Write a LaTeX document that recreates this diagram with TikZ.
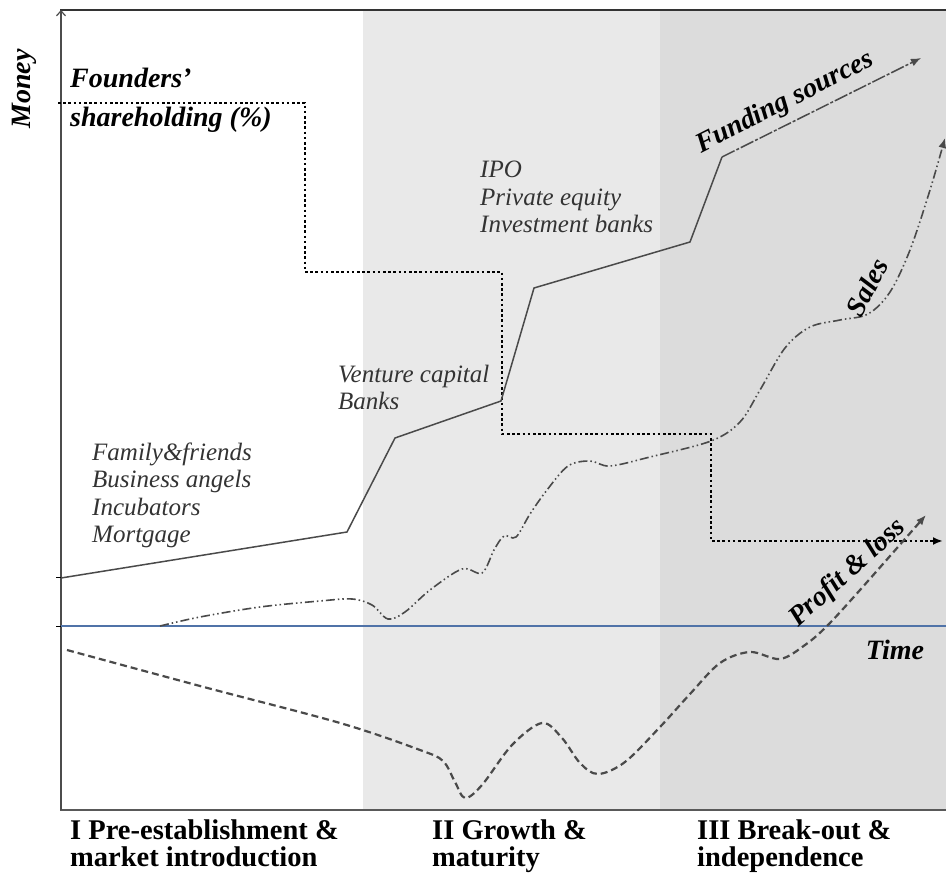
\documentclass[tikz,border=0pt]{standalone}
\usepackage{fontspec}
\setmainfont{Liberation Serif}
\usetikzlibrary{arrows.meta}
\definecolor{phaseII}{HTML}{E9E9E9}
\definecolor{phaseIII}{HTML}{DCDCDC}
\definecolor{axisblue}{HTML}{5073A8}
\definecolor{curvegray}{HTML}{4A4A4A}
\tikzset{
  source/.style={font=\itshape\fontsize{25}{27.5}\selectfont, text=black!80, align=left, anchor=base west, inner sep=0pt},
  curvelabel/.style={font=\bfseries\itshape\fontsize{28}{30}\selectfont, inner sep=0pt},
  phase/.style={font=\bfseries\fontsize{28.5}{27}\selectfont, align=left, anchor=base west, inner sep=0pt},
  tip/.style={-{Latex[length=10pt,width=8pt]}},
}

\begin{document}
\begin{tikzpicture}[x=1pt,y=-1pt]
	%%%%% START %%%%%
	\useasboundingbox (0,0) rectangle (946,874);
	
	% phases
	\fill[phaseII] (363,10) rectangle (660,810);
	\fill[phaseIII] (660,10) rectangle (946,810);
	
	% frame and axes
	\draw[line width=2.5pt, black!80] (60,10) -- (946,10);
	\draw[line width=2.5pt, black!65] (60,810) -- (946,810);
	\draw[line width=1.2pt, black!70, -{Straight Barb[length=5pt,width=9pt]}] (61,810) -- (61,10);
	\draw[line width=1.8pt, axisblue] (61,626) -- (946,626);
	\draw[line width=1pt] (56,578) -- (61,578);
	\draw[line width=1pt] (56,626) -- (61,626);
	
	% founders' shareholding
	\draw[line width=2.6pt, dash pattern=on 2.6pt off 2.6pt, tip] (58,103) -- (305,103) -- (305,272) -- (502,272) -- (502,434) -- (711,434) -- (711,541) -- (943,541);
	
	% funding sources
	\draw[line width=1.5pt, curvegray] (61,578) -- (347,532) -- (395,438) -- (501,401) -- (534,288) -- (690,242) -- (722,157);
	\draw[line width=1.5pt, curvegray, dash pattern=on 14pt off 2pt on 3pt off 2pt, tip] (722,157) -- (921,58);
	
	% sales
	\draw[line width=1.6pt, curvegray, dash pattern=on 9pt off 3pt on 1.5pt off 3pt on 1.5pt off 3pt, tip] plot[smooth, tension=0.55] coordinates {
		(160,626) (200,617) (260,607) (320,601) (352,599) (372,605) (388,619) (405,612) (430,590) (462,569) (482,573) (494,550) (504,536) (516,537) (530,514) (547,490) (568,466) (590,461) (610,466) (650,457) (711,441) (740,422) (760,390) (785,348) (810,327) (840,320) (868,314) (890,292) (910,250) (930,190) (945,138)};
	
	% profit & loss
	\draw[line width=2.2pt, curvegray, dash pattern=on 7pt off 4pt, tip] plot[smooth, tension=0.55] coordinates {
		(67,650) (200,686) (340,723) (420,750) (443,761) (455,782) (465,798) (482,785) (512,745) (542,723) (562,738) (580,763) (598,774) (625,762) (660,727) (690,694) (720,663) (750,652) (780,659) (805,645) (827,626) (860,590) (926,515)};
	
	% sources of funding
	\node[source] (early) at (92,543) {Family\&friends\\Business angels\\Incubators\\Mortgage};
	\node[source] (venture) at (338,410) {Venture capital\\Banks};
	\node[source] (late) at (480,233) {IPO\\Private equity\\Investment banks};
	
	% curve labels
	\node[curvelabel, anchor=base west] (founders) at (70,88) {Founders'};
	\node[curvelabel, anchor=base west] (holding) at (70,127) {shareholding (\%)};
	\node[curvelabel, rotate=27] (funding) at (785,103) {Funding sources};
	\node[curvelabel, rotate=63] (sales) at (867,287) {Sales};
	\node[curvelabel, rotate=42] (profit) at (848,573) {Profit \& loss};
	\node[curvelabel] (time) at (895,650) {Time};
	\node[curvelabel, rotate=90] (money) at (24,89) {Money};
	
	% phases
	\node[phase] (phase1) at (70,866) {I Pre-establishment \&\\market introduction};
	\node[phase] (phase2) at (432,866) {II Growth \&\\maturity};
	\node[phase] (phase3) at (697,866) {III Break-out \&\\independence};
	%%%%% END %%%%%
\end{tikzpicture}
\end{document}
